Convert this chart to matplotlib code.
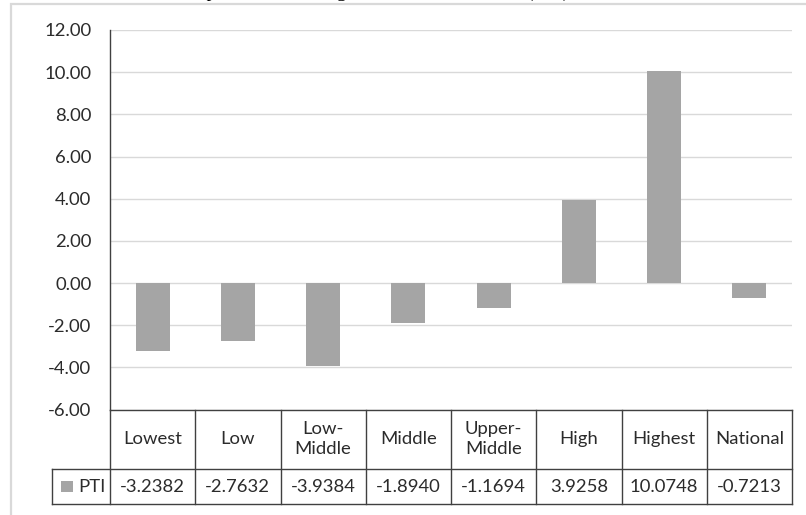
import matplotlib
matplotlib.use("Agg")
import matplotlib.pyplot as plt
from matplotlib.patches import Rectangle
from matplotlib.transforms import blended_transform_factory

# Datos del índice PTI por grupo
categorias = ["Lowest", "Low", "Low-\nMiddle", "Middle", "Upper-\nMiddle", "High", "Highest", "National"]
pti = [-3.2382, -2.7632, -3.9384, -1.8940, -1.1694, 3.9258, 10.0748, -0.7213]
serie = "PTI"
titulo = "Decomposition of Changes in Headcount Index (PTI)"

W, H = 806, 515
plt.rcParams["font.family"] = ["Lato", "DejaVu Sans"]
texto = "#2b2b2b"
linea = "#404040"
gris_barra = "#A5A5A5"
fs = 13.3


def fy(py):
    # pixel vertical (desde arriba) -> fracción de figura
    return 1 - py / H


fig = plt.figure(figsize=(W / 100, H / 100), dpi=100)
ax = fig.add_axes([110 / W, fy(409.5), (792 - 110) / W, (409.5 - 30) / H])

x = list(range(len(categorias)))
ax.bar(x, pti, width=0.4, color=gris_barra, zorder=3)

ax.set_xlim(-0.5, len(categorias) - 0.5)
ax.set_ylim(-6, 12)
ax.set_yticks(range(-6, 13, 2))
ax.set_yticklabels([f"{v:.2f}" for v in range(-6, 13, 2)], fontsize=fs, color=texto)
ax.set_xticks([])
ax.tick_params(axis="y", length=0, pad=13.5)
ax.grid(axis="y", color="#D9D9D9", linewidth=1, zorder=0)
for s in ["top", "right", "bottom"]:
    ax.spines[s].set_visible(False)
ax.spines["left"].set_color(linea)
ax.spines["left"].set_linewidth(1)

# Tabla de datos debajo del gráfico
tr = blended_transform_factory(ax.transData, fig.transFigure)
y_top, y_mid, y_bot = 409.5, 469, 504
x_izq = -0.5 - 58 / 85.25
n = len(categorias)
kw = dict(color=linea, linewidth=1, transform=tr, clip_on=False)
ax.plot([-0.5, n - 0.5], [fy(y_top)] * 2, **kw)
ax.plot([x_izq, n - 0.5], [fy(y_mid)] * 2, **kw)
ax.plot([x_izq, n - 0.5], [fy(y_bot)] * 2, **kw)
ax.plot([x_izq, x_izq], [fy(y_mid), fy(y_bot)], **kw)
for i in range(n + 1):
    ax.plot([i - 0.5, i - 0.5], [fy(y_top), fy(y_bot)], **kw)

for i, (cat, val) in enumerate(zip(categorias, pti)):
    ax.text(i, fy((y_top + y_mid) / 2), cat, transform=tr, ha="center", va="center",
            fontsize=fs, color=texto, linespacing=1.3)
    ax.text(i, fy((y_mid + y_bot) / 2), f"{val:.4f}", transform=tr, ha="center",
            va="center", fontsize=fs, color=texto)

# Leyenda dentro de la tabla
fig.patches.append(Rectangle((61 / W, fy(491.5)), 11.5 / W, 11 / H, transform=fig.transFigure,
                             facecolor=gris_barra, edgecolor="none"))
fig.text(78 / W, fy((y_mid + y_bot) / 2), serie, ha="left", va="center", fontsize=fs, color=texto)

# Marco del área del gráfico
fig.patches.append(Rectangle((11 / W, fy(530)), 820 / W, 526 / H, transform=fig.transFigure,
                             facecolor="none", edgecolor="#D9D9D9", linewidth=1.6))

# Título (queda recortado en el borde superior)
fig.text(150 / W, fy(-2.8), titulo, ha="left", va="baseline", fontsize=14,
         family="Liberation Serif", color="black")

fig.savefig("out.png", dpi=100)
